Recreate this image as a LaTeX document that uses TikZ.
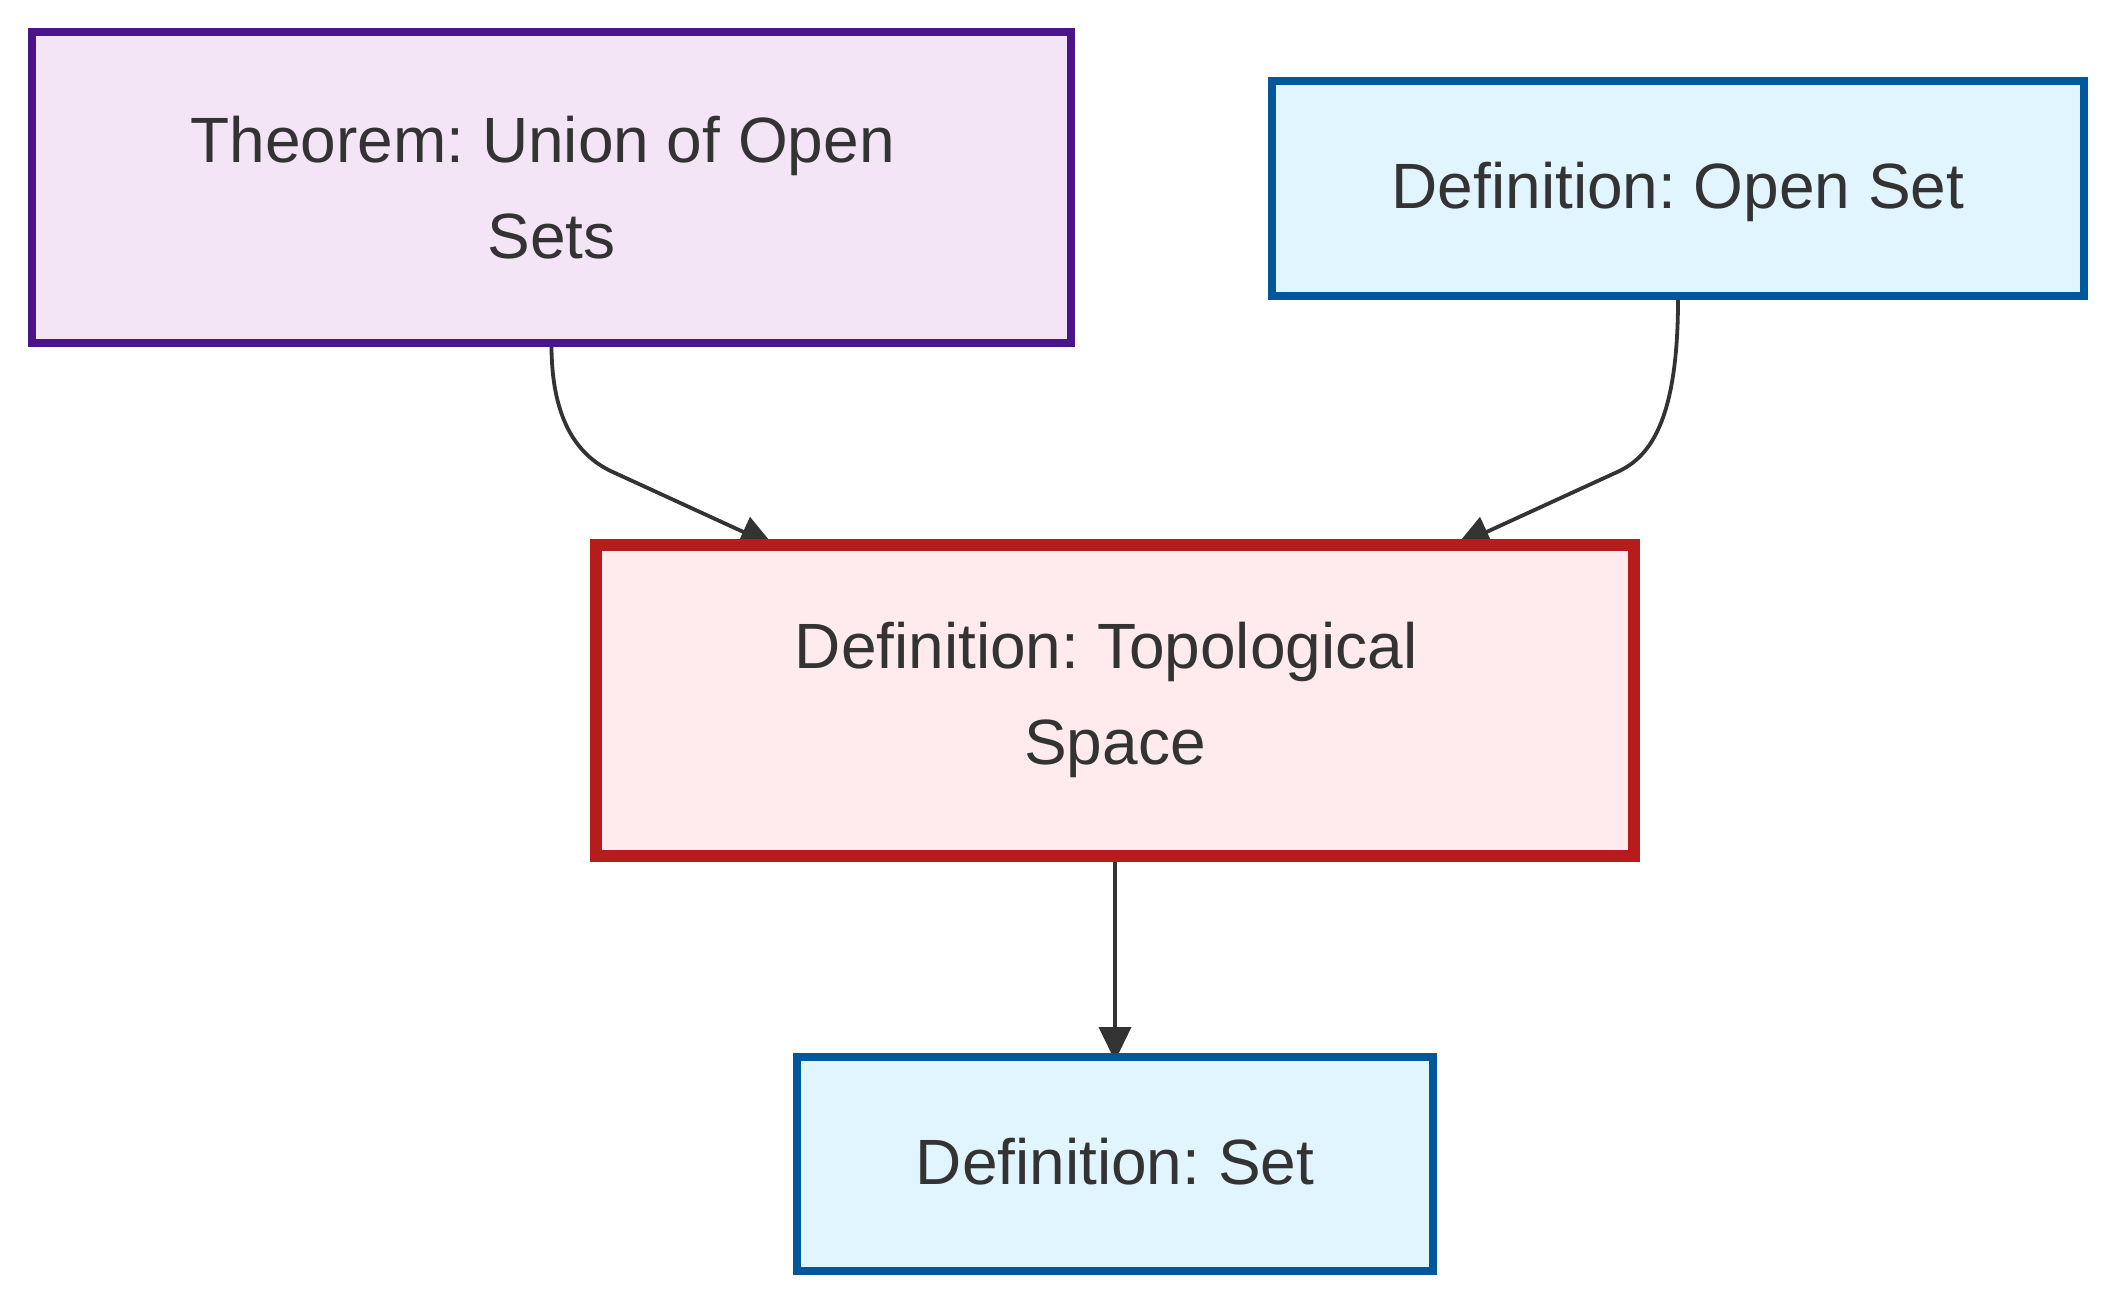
\documentclass[tikz,border=0pt]{standalone}
\usepackage{fontspec}
\setmainfont{Liberation Sans}
\usetikzlibrary{arrows.meta}
\frenchspacing
\definecolor{thmfill}{HTML}{F3E5F5}
\definecolor{thmline}{HTML}{4A148C}
\definecolor{deffill}{HTML}{E1F5FE}
\definecolor{defline}{HTML}{01579B}
\definecolor{topfill}{HTML}{FFEBEE}
\definecolor{topline}{HTML}{B71C1C}
\definecolor{txt}{HTML}{333333}
\definecolor{edgecol}{HTML}{333333}
\pgfdeclarelayer{edges}
\pgfsetlayers{edges,main}
\newcommand{\trail}{\hspace*{0.278em}}
\begin{document}
\begin{tikzpicture}[x=1pt,y=-1pt,
  box/.style={draw, rectangle, inner sep=0pt, align=center, text=txt,
    font=\fontsize{64}{96}\selectfont},
  oneline/.style={text height=54pt, text depth=14pt},
  thmbox/.style={box, fill=thmfill, draw=thmline, line width=8pt},
  defbox/.style={box, oneline, fill=deffill, draw=defline, line width=8pt},
  topbox/.style={box, fill=topfill, draw=topline, line width=12pt},
  conn/.style={draw=edgecol, line width=3.8pt, -{Triangle[length=34pt,width=32pt]}}
]
\useasboundingbox (0,0) rectangle (2116,1304);

\node[thmbox, minimum width=1039pt, minimum height=311pt] (thm) at (551.5,187.5)
  {Theorem: Union of Open\trail\\Sets};
\node[defbox, minimum width=812pt, minimum height=215pt] (open) at (1678,188)
  {Definition: Open Set};
\node[topbox, minimum width=1038.5pt, minimum height=311pt] (top) at (1115,700)
  {Definition: Topological\trail\\Space};
\node[defbox, minimum width=636.5pt, minimum height=214pt] (set) at (1115,1164)
  {Definition: Set};

\begin{pgfonlayer}{edges}
\draw[conn] (thm.south) .. controls (552,430) and (585,460) .. (615,473)
  -- ([xshift=-341pt,yshift=-7.5pt]top.north);
\draw[conn] (open.south) .. controls (1678,430) and (1645,460) .. (1615,473)
  -- ([xshift=341pt,yshift=-7.5pt]top.north);
\draw[conn] (top.south) -- ([yshift=-8pt]set.north);
\end{pgfonlayer}
\end{tikzpicture}
\end{document}
